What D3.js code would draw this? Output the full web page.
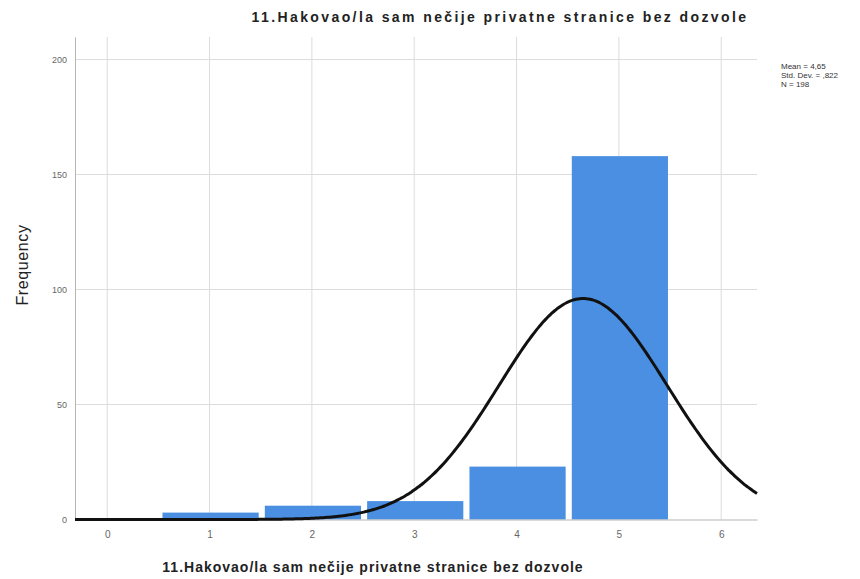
<!DOCTYPE html>
<html><head><meta charset="utf-8">
<script src="https://cdn.jsdelivr.net/npm/d3@7"></script>
<style>body{margin:0;background:#fff}svg{display:block}text{font-family:"Liberation Sans",Arial,sans-serif}</style>
</head><body><svg id="c" width="860" height="579"></svg>
<script>
const categories = [1, 2, 3, 4, 5];
const frequencies = [3, 6, 8, 23, 158];
const xTicks = [0, 1, 2, 3, 4, 5, 6];
const yTicks = [0, 50, 100, 150, 200];
const statMean = 4.65, statSd = 0.822, statN = 198;
const statLabels = ["Mean = 4,65", "Std. Dev. = ,822", "N = 198"];
const titleText = "11.Hakovao/la sam nečije privatne stranice bez dozvole";
const yLabel = "Frequency";

const svg = d3.select("#c");
const L = 75, R = 757, T = 37, B = 519.5;
const x = d3.scaleLinear().domain([-0.315, 6.35]).range([L, R]);
const y = d3.scaleLinear().domain([0, 209.8]).range([B, T]);

const g = svg.append("g");
// grid
g.selectAll(".vg").data(xTicks).join("line")
  .attr("x1", d => x(d)).attr("x2", d => x(d)).attr("y1", T).attr("y2", B)
  .attr("stroke", "#dcdcdc").attr("stroke-width", 1);
g.selectAll(".hg").data(yTicks.filter(d => d > 0)).join("line")
  .attr("x1", L).attr("x2", R).attr("y1", d => y(d)).attr("y2", d => y(d))
  .attr("stroke", "#dcdcdc").attr("stroke-width", 1);

// bars
g.selectAll(".bar").data(categories).join("rect")
  .attr("x", (d) => x(d - 0.46)).attr("width", x(0.94) - x(0))
  .attr("y", (d, i) => y(frequencies[i])).attr("height", (d, i) => B - y(frequencies[i]))
  .attr("fill", "#4a8fe2");

// axes
const xAxis = d3.axisBottom(x).tickValues(xTicks).tickSize(0).tickPadding(11).tickFormat(d3.format("d"));
const xa = svg.append("g").attr("transform", `translate(0,${B})`).call(xAxis);
xa.select(".domain").attr("stroke", "#b5b5b5");
xa.selectAll("text").attr("fill", "#666").attr("font-size", 10);
const yAxis = d3.axisLeft(y).tickValues(yTicks).tickSize(0).tickPadding(8);
const ya = svg.append("g").attr("transform", `translate(${L},0)`).call(yAxis);
ya.select(".domain").attr("stroke", "#b5b5b5");
ya.selectAll("text").attr("fill", "#666").attr("font-size", 9);

// normal curve
const pts = d3.range(0, 301).map(i => -0.315 + i * (6.35 + 0.315) / 300);
const dens = v => statN * Math.exp(-0.5 * ((v - statMean) / statSd) ** 2) / (statSd * Math.sqrt(2 * Math.PI));
svg.append("path").datum(pts)
  .attr("d", d3.line().x(v => x(v)).y(v => y(dens(v))).curve(d3.curveBasis))
  .attr("fill", "none").attr("stroke", "#111").attr("stroke-width", 3);

// texts
svg.append("text").attr("x", 500).attr("y", 22).attr("text-anchor", "middle")
  .attr("font-size", 14).attr("font-weight", "bold").attr("letter-spacing", 2.4).attr("fill", "#222").text(titleText);
svg.append("text").attr("x", 373).attr("y", 572).attr("text-anchor", "middle")
  .attr("font-size", 14).attr("font-weight", "bold").attr("letter-spacing", 1).attr("fill", "#222").text(titleText);
svg.append("text").attr("transform", "translate(28,265) rotate(-90)").attr("text-anchor", "middle")
  .attr("font-size", 16).attr("letter-spacing", 0.6).attr("fill", "#222").text(yLabel);
svg.selectAll(".st").data(statLabels).join("text")
  .attr("x", 781).attr("y", (d, i) => 69 + i * 9).attr("font-size", 8).attr("fill", "#333").text(d => d);
</script></body></html>
